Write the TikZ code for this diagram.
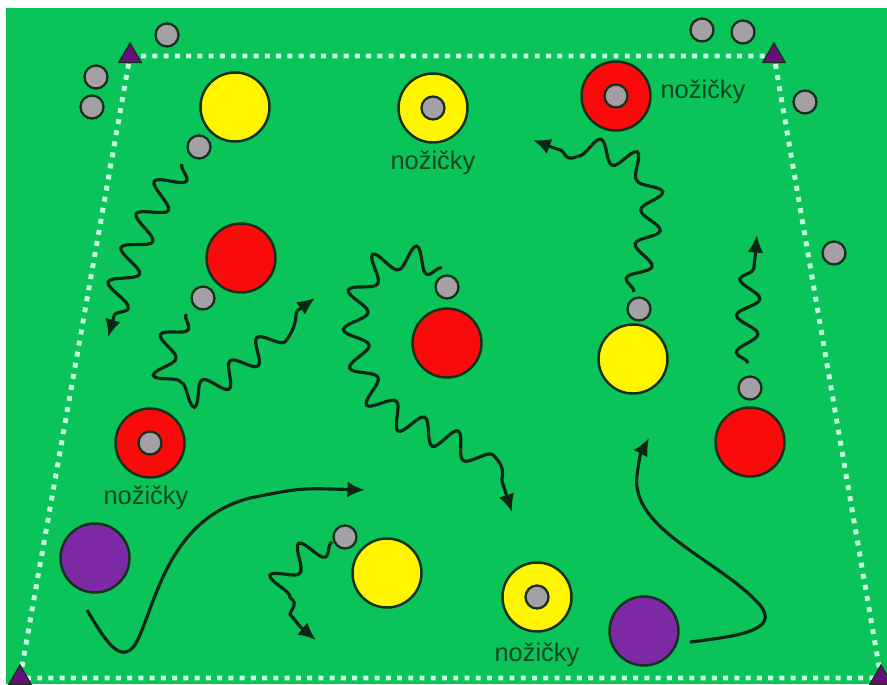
\documentclass[tikz,border=0pt]{standalone}
\usepackage{fontspec}
\setmainfont{Liberation Sans}
\usetikzlibrary{positioning, shapes, shapes.geometric, arrows, arrows.meta, decorations.pathmorphing}
\definecolor{pitch}{RGB}{10,196,90}
\definecolor{chalk}{RGB}{200,255,225}
\definecolor{edge}{RGB}{22,48,30}
\definecolor{ink}{RGB}{10,38,20}
\definecolor{stone}{RGB}{165,160,165}
\definecolor{lemon}{RGB}{255,245,0}
\definecolor{tomato}{RGB}{250,10,10}
\definecolor{plum}{RGB}{125,40,165}
\definecolor{conecol}{RGB}{105,15,120}
\definecolor{tagcol}{RGB}{15,70,35}
\tikzset{>={Latex[length=10pt, width=9pt]}}
\tikzset{
    ball/.style = {circle, draw=edge, fill=stone, line width=1.3pt, minimum size=0.46cm, inner sep=0pt},
    disc/.style = {circle, draw=edge, line width=1.4pt, minimum size=1.38cm, inner sep=0pt},
    cone/.style = {regular polygon, regular polygon sides=3, draw=edge, fill=conecol, line width=0.7pt,
                        minimum size=0.52cm, inner sep=0pt},
    tag/.style = {text=tagcol, font=\fontsize{14.5}{16}\selectfont, inner sep=0pt},
    fence/.style = {draw=chalk, line width=2.8pt, dash pattern=on 2.8pt off 3.6pt},
    run/.style = {->, draw=ink, line width=1.8pt},
    wiggle/.style = {->, draw=ink, line width=1.8pt, decorate,
                        decoration={snake, amplitude=0.27cm, segment length=0.72cm, post length=0.4cm}}
}
\begin{document}
\begin{tikzpicture}[x=0.02cm, y=-0.02cm]
		\useasboundingbox (0,0) rectangle (887,684);
		\fill[white] (0,0) rectangle (887,684);
		\fill[pitch] (6,8) rectangle (887,684);
		\coordinate (ctl) at (130,56);
		\coordinate (ctr) at (774,56);
		\coordinate (cbr) at (881,678);
		\coordinate (cbl) at (20,678);
		\draw[fence] (ctl) -- (ctr) -- (cbr) -- (cbl) -- cycle;
		\node (tl) [cone] at (ctl) {};
		\node (tr) [cone] at (ctr) {};
		\node (br) [cone] at (cbr) {};
		\node (bl) [cone] at (cbl) {};
		\node (b1) [ball] at (167,35) {};
		\node (b2) [ball] at (96,77) {};
		\node (b3) [ball] at (92,107) {};
		\node (b4) [ball] at (199,147) {};
		\node (b5) [ball] at (702,30) {};
		\node (b6) [ball] at (743,32) {};
		\node (b7) [ball] at (805,102) {};
		\node (b8) [ball] at (834,253) {};
		\node (b9) [ball] at (203,298) {};
		\node (b10) [ball] at (447,287) {};
		\node (b11) [ball] at (639,309) {};
		\node (b12) [ball] at (750,388) {};
		\node (b13) [ball] at (345,537) {};
		\node (y1) [disc, fill=lemon] at (235,107) {};
		\node (y2) [disc, fill=lemon] at (633,359) {};
		\node (y3) [disc, fill=lemon] at (387,573) {};
		\node (r1) [disc, fill=tomato] at (241,258) {};
		\node (r2) [disc, fill=tomato] at (447,343) {};
		\node (r3) [disc, fill=tomato] at (750,442) {};
		\node (p1) [disc, fill=plum] at (95,558) {};
		\node (p2) [disc, fill=plum] at (644,631) {};
		\node (ring1) [disc, fill=lemon] at (433,108) {};
		\node (ring2) [disc, fill=tomato] at (616,96) {};
		\node (ring3) [disc, fill=tomato] at (150,443) {};
		\node (ring4) [disc, fill=lemon] at (537,597) {};
		\node (c1) [ball] at (ring1) {};
		\node (c2) [ball] at (ring2) {};
		\node (c3) [ball] at (ring3) {};
		\node (c4) [ball] at (ring4) {};
		\node (t1) [tag] at (433,163) {nožičky};
		\node (t2) [tag] at (703,92) {nožičky};
		\node (t3) [tag] at (146,498) {nožičky};
		\node (t4) [tag] at (537,655) {nožičky};
		\coordinate (w1s) at (182,164);
		\coordinate (w1e) at (108,337);
		\coordinate (w2s) at (186,314);
		\coordinate (w2e) at (315,298);
		\coordinate (w3s) at (442,268);
		\coordinate (w3e) at (512,512);
		\coordinate (w4s) at (634,292);
		\coordinate (w4e) at (533,140);
		\coordinate (w5s) at (748,363);
		\coordinate (w5e) at (757,235);
		\coordinate (w6s) at (332,542);
		\coordinate (w6e) at (316,640);
		\coordinate (s1s) at (87,610);
		\coordinate (s1e) at (365,490);
		\coordinate (s2s) at (690,642);
		\coordinate (s2e) at (649,438);
		\draw[wiggle] (w1s) .. controls (150,210) and (130,260) .. (w1e);
		\draw[wiggle, decoration={amplitude=0.22cm}] (w2s) .. controls (160,350) and (165,395) .. (200,385) .. controls (240,370) and (280,320) .. (w2e);
		\draw[wiggle, decoration={amplitude=0.24cm}] (w3s) .. controls (380,240) and (350,300) .. (370,370) .. controls (385,430) and (440,430) .. (480,455) .. controls (500,470) and (505,490) .. (w3e);
		\draw[wiggle, decoration={amplitude=0.22cm}] (w4s) .. controls (645,250) and (660,200) .. (640,178) .. controls (620,160) and (580,160) .. (w4e);
		\draw[wiggle, decoration={amplitude=0.22cm}] (w5s) .. controls (745,320) and (755,270) .. (w5e);
		\draw[wiggle, decoration={amplitude=0.24cm}] (w6s) .. controls (280,560) and (270,610) .. (w6e);
		\draw[run] (s1s) .. controls (105,640) and (120,665) .. (135,645) .. controls (155,610) and (165,520) .. (250,498) .. controls (300,488) .. (s1e);
		\draw[run] (s2s) .. controls (740,636) and (780,630) .. (760,605) .. controls (720,560) and (630,530) .. (637,475) .. controls (640,455) .. (s2e);
	\end{tikzpicture}
\end{document}
